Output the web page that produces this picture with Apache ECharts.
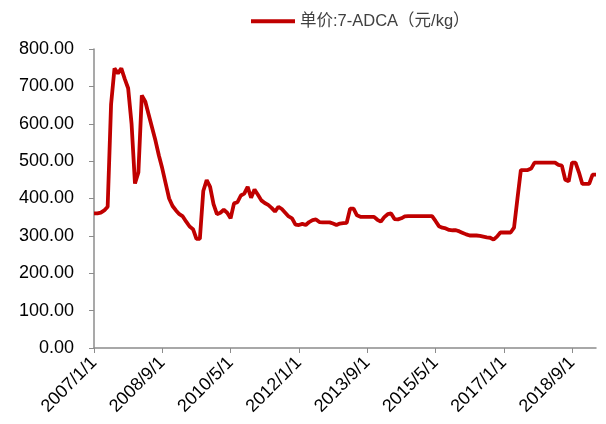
<!DOCTYPE html>
<html>
<head>
<meta charset="utf-8">
<script src="https://cdn.jsdelivr.net/npm/echarts@6/dist/echarts.min.js"></script>
<style>html,body{margin:0;padding:0;background:#fff;}#c{width:606px;height:424px;}</style>
</head>
<body>
<div id="c"></div>
<script>
// monthly categories 2007/1/1 .. 2019/4/1
var startYear = 2007, startMonth = 1, monthCount = 148;
var categories = [];
for (var k = 0; k < monthCount; k++) {
  var m = startMonth - 1 + k;
  categories.push((startYear + Math.floor(m / 12)) + '/' + (m % 12 + 1) + '/1');
}
var seriesName = '单价:7-ADCA（元/kg）';
var prices = [
  360, 360, 362, 368, 378, 652, 748, 735, 748, 720,
  695, 600, 440, 470, 676, 660, 625, 590, 555, 515,
  480, 440, 400, 380, 368, 358, 352, 338, 325, 318,
  292, 292, 420, 449, 431, 385, 358, 362, 370, 362,
  347, 387, 390, 408, 413, 431, 402, 424, 410, 395,
  388, 383, 375, 365, 378, 372, 362, 352, 347, 330,
  329, 332, 329, 337, 342, 344, 337, 336, 336, 336,
  333, 329, 333, 334, 335, 373, 373, 355, 351, 351,
  351, 351, 351, 343, 338, 350, 358, 360, 345, 344,
  347, 352, 353, 353, 353, 353, 353, 353, 353, 353,
  340, 326, 322, 320, 316, 315, 315, 312, 308, 304,
  301, 301, 301, 300, 298, 296, 295, 290, 298, 309,
  309, 309, 309, 322, 400, 476, 476, 476, 480, 496,
  496, 496, 496, 496, 496, 496, 490, 488, 450, 446,
  496, 496, 470, 439, 439, 439, 464, 464
];
var yMin = 0, yMax = 800, yInterval = 100;

var chart = echarts.init(document.getElementById('c'));
chart.setOption({
  animation: false,
  legend: {
    top: 8,
    left: 246,
    itemWidth: 44,
    itemHeight: 4,
    itemGap: 4,
    icon: 'rect',
    textStyle: { fontSize: 16.5, color: '#404040', fontFamily: 'Liberation Sans, Noto Sans CJK SC' },
    data: [seriesName]
  },
  grid: { left: 94, right: 10, top: 49, bottom: 76 },
  xAxis: {
    type: 'category',
    data: categories,
    boundaryGap: false,
    axisLine: { lineStyle: { color: '#8c8c8c', width: 1.5 } },
    axisTick: { interval: 19, length: 5, lineStyle: { color: '#8c8c8c' } },
    axisLabel: { interval: 19, rotate: 45, fontSize: 18, color: '#000', margin: 12, fontFamily: 'Liberation Sans' },
    splitLine: { show: false }
  },
  yAxis: {
    type: 'value',
    min: yMin, max: yMax, interval: yInterval,
    axisLine: { show: true, lineStyle: { color: '#8c8c8c', width: 1.5 } },
    axisTick: { show: true, length: 5, lineStyle: { color: '#8c8c8c' } },
    axisLabel: { fontSize: 18, color: '#000', margin: 20, fontFamily: 'Liberation Sans',
      formatter: function (v) { return v.toFixed(2); } },
    splitLine: { show: false }
  },
  series: [{
    name: seriesName,
    type: 'line',
    data: prices,
    symbol: 'none',
    lineStyle: { color: '#C00000', width: 3.8 },
    itemStyle: { color: '#C00000' }
  }]
});
</script>
</body>
</html>
